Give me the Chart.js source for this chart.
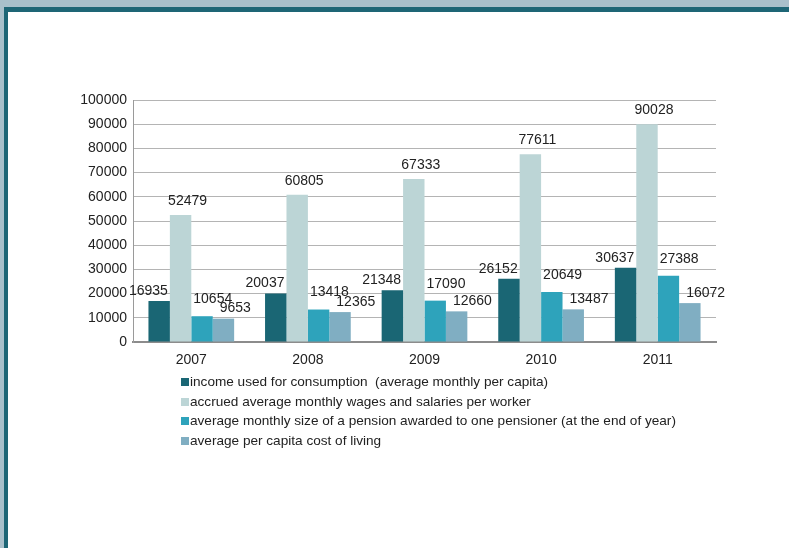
<!DOCTYPE html>
<html>
<head>
<meta charset="utf-8">
<script src="https://cdn.jsdelivr.net/npm/chart.js@4.4.1/dist/chart.umd.min.js"></script>
<style>
  html, body { margin: 0; padding: 0; }
  body { width: 789px; height: 548px; background: #a9c0cb; position: relative; overflow: hidden; }
  #frame { position: absolute; left: 4px; top: 7px; right: 0; bottom: 0; background: #fff;
           border-left: 4px solid #1e6676; border-top: 5px solid #1e6676; }
  #chart { position: absolute; left: 0; top: 0; }
  #legend { position: absolute; left: 181px; top: 372px; font: 13.6px "Liberation Sans", Arial, sans-serif; color: #222; }
  #legend div { height: 19.5px; line-height: 19.5px; white-space: pre; }
  #legend span { display: inline-block; width: 8px; height: 8px; margin-right: 1px; vertical-align: 0px; }
</style>
</head>
<body>
<div id="frame"></div>
<canvas id="chart" width="789" height="548"></canvas>
<div id="legend"></div>
<script>
let years = ['2007', '2008', '2009', '2010', '2011'];
let seriesNames = [
  'income used for consumption  (average monthly per capita)',
  'accrued average monthly wages and salaries per worker',
  'average monthly size of a pension awarded to one pensioner (at the end of year)',
  'average per capita cost of living'
];
let income = [16935, 20037, 21348, 26152, 30637];
let wages = [52479, 60805, 67333, 77611, 90028];
let pension = [10654, 13418, 17090, 20649, 27388];
let costOfLiving = [9653, 12365, 12660, 13487, 16072];
let colorHex = ['#1a6674', '#bcd5d6', '#2ea3bb', '#80aec2'];

// label placement per series, roughly like the original (dx, dy, align)
let labelPos = [
  { align: 'right', dx: -2, dy: -3 },
  { align: 'center', dx: 7, dy: -7 },
  { align: 'left', dx: 2, dy: -10 },
  { align: 'left', dx: 7, dy: -3 }
];

let barLabels = {
  id: 'barLabels',
  afterDatasetsDraw(chart) {
    let ctx = chart.ctx;
    ctx.save();
    ctx.font = '14px "Liberation Sans", Arial, sans-serif';
    ctx.fillStyle = '#222';
    ctx.textBaseline = 'bottom';
    chart.data.datasets.forEach((ds, i) => {
      let meta = chart.getDatasetMeta(i);
      let p = labelPos[i];
      meta.data.forEach((bar, j) => {
        let x = bar.x;
        if (p.align === 'right') x = bar.x + bar.width / 2;
        if (p.align === 'left') x = bar.x - bar.width / 2;
        ctx.textAlign = p.align;
        ctx.fillText(String(ds.data[j]), x + p.dx, bar.y + p.dy);
      });
    });
    ctx.restore();
  }
};

let allData = [income, wages, pension, costOfLiving];
let tickFont = { family: '"Liberation Sans", Arial, sans-serif', size: 14 };

let myChart = new Chart(document.getElementById('chart').getContext('2d'), {
  type: 'bar',
  data: {
    labels: years,
    datasets: allData.map((d, i) => ({
      label: seriesNames[i],
      data: d,
      backgroundColor: colorHex[i],
      barPercentage: 1,
      categoryPercentage: 0.735
    }))
  },
  options: {
    responsive: false,
    animation: false,
    layout: { padding: { left: 63, right: 73, top: 100, bottom: 176 } },
    plugins: {
      legend: { display: false },
      tooltip: { enabled: false }
    },
    scales: {
      x: {
        grid: { display: false },
        border: { color: '#8c8c8c', width: 2 },
        ticks: { color: '#222', font: tickFont, padding: 2 },
        afterFit: (s) => { s.height = 30; }
      },
      y: {
        min: 0,
        max: 100000,
        ticks: {
          stepSize: 10000, color: '#222', font: tickFont, padding: 6,
          callback: (v) => String(v)
        },
        grid: { color: '#b4b4b4', lineWidth: 1, drawTicks: false },
        border: { color: '#9a9a9a', width: 1 },
        afterFit: (s) => { s.width = 70; }
      }
    }
  },
  plugins: [barLabels]
});

let legend = document.getElementById('legend');
myChart.data.datasets.forEach((ds) => {
  let row = document.createElement('div');
  let sw = document.createElement('span');
  sw.style.background = ds.backgroundColor;
  row.appendChild(sw);
  row.appendChild(document.createTextNode(ds.label));
  legend.appendChild(row);
});
</script>
</body>
</html>
